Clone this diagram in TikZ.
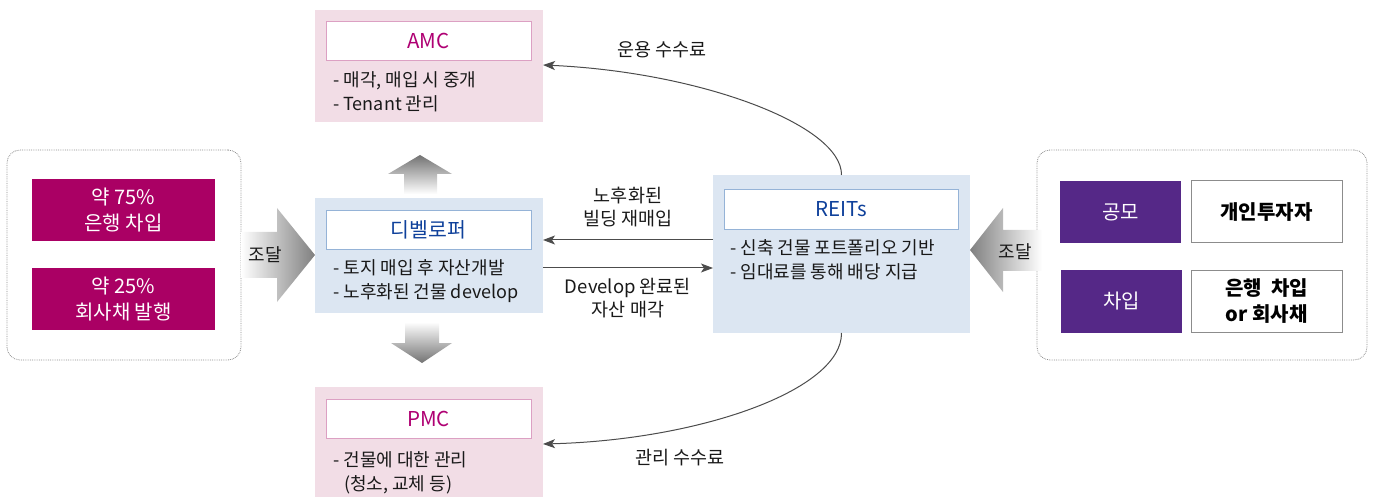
\documentclass[tikz,border=0pt]{standalone}
\usepackage{fontspec}
\setmainfont{Noto Sans CJK KR}
\usetikzlibrary{arrows.meta}
\definecolor{mag}{RGB}{170,0,100}
\definecolor{magtxt}{RGB}{175,0,115}
\definecolor{pinkfill}{RGB}{242,221,230}
\definecolor{pinkline}{RGB}{220,160,195}
\definecolor{bluefill}{RGB}{220,230,242}
\definecolor{blueline}{RGB}{149,179,215}
\definecolor{bluetxt}{RGB}{15,65,155}
\definecolor{purp}{RGB}{85,40,135}
\definecolor{txt}{RGB}{25,25,25}
\begin{document}
\begin{tikzpicture}[x=1pt,y=-1pt,
  panel/.style={inner sep=0pt, outer sep=0pt},
  inbox/.style={draw, line width=0.8pt, fill=white, minimum width=205pt, minimum height=39pt, inner sep=0pt, font=\fontsize{20.5}{23}\selectfont},
  body/.style={anchor=west, align=left, inner sep=0pt, text=txt, font=\fontsize{18}{24}\selectfont},
  lbl/.style={align=center, inner sep=0pt, text=txt, font=\fontsize{18.5}{23}\selectfont},
  fund/.style={inner sep=0pt, minimum width=183pt, minimum height=62pt, fill=mag, text=white, align=center, font=\fontsize{20}{26}\selectfont},
  pbox/.style={inner sep=0pt, minimum width=121pt, minimum height=62pt, fill=purp, text=white, align=center, font=\fontsize{20}{26}\selectfont},
  wbox/.style={inner sep=0pt, minimum width=151pt, minimum height=62pt, draw=black!45, line width=1pt, fill=white, text=black, align=center, font=\bfseries\fontsize{20}{26}\selectfont},
  dotbox/.style={draw=black!45, densely dotted, line width=0.8pt, rounded corners=13pt, inner sep=0pt},
  conn/.style={draw=black!70, line width=1pt, -{Stealth[length=12pt,width=9pt,inset=3pt]}},
  jodal/.style={inner sep=0pt, text=txt, font=\fontsize{18}{20}\selectfont}
]
\useasboundingbox (0,0) rectangle (1374,497);

% dotted group boxes
\node[dotbox, minimum width=234pt, minimum height=210pt] (lgrp) at (124,255) {};
\node[dotbox, minimum width=330pt, minimum height=210pt] (rgrp) at (1202,255) {};

% gradient arrows
\shade[left color=white, right color=black!50] (241,232) -- (277,232) -- (277,208) -- (315,255) -- (277,302) -- (277,278) -- (241,278) -- cycle;
\node[jodal] (jodalL) at (265,255) {조달};
\shade[left color=black!50, right color=white] (1042,230) -- (1003,230) -- (1003,208) -- (970,250) -- (1003,292) -- (1003,271) -- (1042,271) -- cycle;
\node[jodal] (jodalR) at (1015,252) {조달};
\shade[top color=black!55, bottom color=white] (420,155) -- (452,174) -- (437,174) -- (437,194) -- (404,194) -- (404,174) -- (388,174) -- cycle;
\shade[top color=white, bottom color=black!55] (405,322) -- (439,322) -- (439,343) -- (452,343) -- (422,363) -- (391,343) -- (405,343) -- cycle;

% left funding boxes
\node[fund] (f75) at (123.5,210) {약 75\%\\은행 차입};
\node[fund] (f25) at (123.5,299) {약 25\%\\회사채 발행};

% right funding boxes
\node[pbox] (gongmo) at (1120.5,212) {공모};
\node[pbox] (chaip) at (1121.5,301.5) {차입};
\node[wbox] (gaein) at (1266.5,212) {개인투자자};
\node[wbox] (eunhaeng) at (1266.5,301.5) {은행\ \ 차입\\or 회사채};

% AMC
\node[panel, fill=pinkfill, minimum width=228pt, minimum height=112pt] (amc) at (429,66) {};
\node[inbox, draw=pinkline, text=magtxt] (amct) at (428.5,41) {AMC};
\node[body] (amcb) at (333,92) {- 매각, 매입 시 중개\\- Tenant 관리};

% Developer
\node[panel, fill=bluefill, minimum width=228pt, minimum height=115pt] (dev) at (429,255.5) {};
\node[inbox, draw=blueline, text=bluetxt] (devt) at (428.5,230) {디벨로퍼};
\node[body] (devb) at (333,281.5) {- 토지 매입 후 자산개발\\- 노후화된 건물 develop};

% PMC
\node[panel, fill=pinkfill, minimum width=228pt, minimum height=110pt] (pmc) at (429,442) {};
\node[inbox, draw=pinkline, text=magtxt] (pmct) at (428.5,419) {PMC};
\node[body] (pmcb) at (333,472.5) {- 건물에 대한 관리\\\hspace*{11pt}(청소, 교체 등)};

% REITs
\node[panel, fill=bluefill, minimum width=257pt, minimum height=158pt] (reits) at (841.5,254) {};
\node[inbox, draw=blueline, text=bluetxt, minimum width=234pt, minimum height=40pt] (reitst) at (841,209) {REITs};
\node[body] (reitsb) at (730,260) {- 신축 건물 포트폴리오 기반\\- 임대료를 통해 배당 지급};

% connectors
\draw[conn] (reits.west |- 0,240) -- (dev.east |- 0,240);
\draw[conn] (dev.east |- 0,268) -- (reits.west |- 0,268);
\node[lbl] (l1) at (628,207) {노후화된\\빌딩 재매입};
\node[lbl] (l2) at (628,298) {Develop 완료된\\자산 매각};

\draw[conn] (reits.north) .. controls (842,125) and (700,72) .. (amc.east |- 0,65);
\node[lbl] (l3) at (662,50) {운용 수수료};
\draw[conn] (reits.south) .. controls (842,390) and (700,440) .. (pmc.east |- 0,444);
\node[lbl] (l4) at (680,458) {관리 수수료};
\end{tikzpicture}
\end{document}
